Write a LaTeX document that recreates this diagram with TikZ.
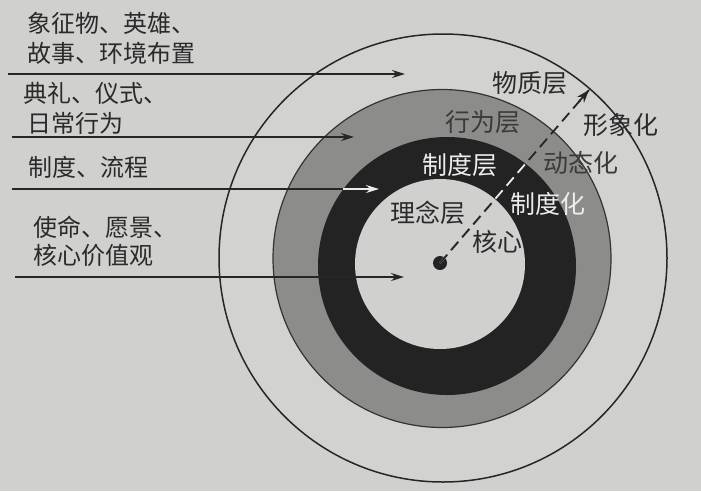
\documentclass[tikz,border=0pt]{standalone}
\usepackage{fontspec}
\setmainfont{Noto Sans CJK SC}
\usetikzlibrary{arrows.meta,calc}
\definecolor{bgc}{HTML}{D0D0CE}
\definecolor{outerc}{HTML}{D2D2D0}
\definecolor{grayc}{HTML}{8C8C8A}
\definecolor{blackc}{HTML}{232323}
\definecolor{innerc}{HTML}{D0D0CF}
\definecolor{darktxt}{HTML}{2A2A2A}
\definecolor{graytxt}{HTML}{3A3A3A}
\definecolor{whitetxt}{HTML}{EDEDED}
\tikzset{
  lefttxt/.style={anchor=west, inner sep=0pt, font=\fontsize{24}{24}\selectfont, text=darktxt},
  ringtxt/.style={anchor=west, inner sep=0pt, font=\fontsize{25}{25}\selectfont, text=darktxt},
  pointer/.style={line width=1.5pt, -{Stealth[length=13pt,width=8pt]}},
  dashline/.style={line width=1.8pt, dash pattern=on 11pt off 6pt},
}
\begin{document}
\begin{tikzpicture}[x=1pt,y=-1pt]
\useasboundingbox (0,0) rectangle (701,491);
\fill[bgc] (0,0) rectangle (701,491);
% rings
\fill[outerc] (443,258) circle (224);
\draw[line width=1.5pt, black!85] (443,258) circle (224);
\fill[grayc] (442,258.5) circle (169);
\draw[line width=1.2pt, black!80] (442,258.5) circle (169);
\fill[blackc] (447,266) circle (129);
\fill[innerc] (440,264) circle (85);
\fill[blackc] (440,263) circle (7);
\coordinate (core) at (440,263);
\coordinate (tip) at (589,90);
% left arrows
\coordinate (s1) at (8,74);   \coordinate (e1) at (405,74);
\coordinate (s2) at (12,137); \coordinate (e2) at (354,137);
\coordinate (s3) at (12,189); \coordinate (m3) at (343,189); \coordinate (e3) at (379,189);
\coordinate (s4) at (15,277); \coordinate (e4) at (404,277);
\draw[pointer, black!85] (s1) -- (e1);
\draw[pointer, black!85] (s2) -- (e2);
\draw[line width=1.5pt, black!85] (s3) -- (m3);
\draw[pointer, white!92!black] (m3) -- (e3);
\draw[pointer, black!85] (s4) -- (e4);
% dashed radial arrow
\draw[dashline, black!85] (core) -- (tip);
\begin{scope}
  \clip (447,266) circle (129);
  \draw[dashline, white!92!black] (core) -- (tip);
\end{scope}
\begin{scope}
  \clip (440,264) circle (85);
  \draw[dashline, black!85] (core) -- (tip);
\end{scope}
\coordinate (tipbase) at ($(core)!0.93!(tip)$);
\draw[line width=1.8pt, -{Stealth[length=13pt,width=9pt]}, black!85] (tipbase) -- (tip);
% left texts
\node[lefttxt] (t1) at (27,23) {象征物、英雄、};
\node[lefttxt] (t2) at (27,53) {故事、环境布置};
\node[lefttxt] (t3) at (23,93) {典礼、仪式、};
\node[lefttxt] (t4) at (27,123) {日常行为};
\node[lefttxt] (t5) at (28,167) {制度、流程};
\node[lefttxt] (t6) at (33,227) {使命、愿景、};
\node[lefttxt] (t7) at (33,255) {核心价值观};
% ring labels
\node[ringtxt] (l1) at (492,83) {物质层};
\node[ringtxt, text=graytxt] (l2) at (445,122) {行为层};
\node[ringtxt] (l3) at (583,125) {形象化};
\node[ringtxt, text=whitetxt] (l4) at (422,165) {制度层};
\node[ringtxt, text=graytxt] (l5) at (543,163) {动态化};
\node[ringtxt] (l6) at (390,213) {理念层};
\node[ringtxt, text=whitetxt] (l7) at (510,204) {制度化};
\node[ringtxt] (l8) at (472,242) {核心};
\end{tikzpicture}
\end{document}
